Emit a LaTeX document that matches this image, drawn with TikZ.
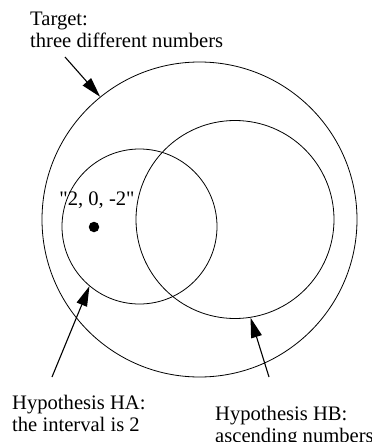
\documentclass[tikz,border=0pt]{standalone}
\usepackage{fontspec}
\setmainfont{Liberation Serif}
\newfontfamily\qfont{Liberation Serif}
\usetikzlibrary{arrows.meta}
\begin{document}
\begin{tikzpicture}[x=1pt,y=-1pt,
  ring/.style={circle,draw,line width=0.8pt,inner sep=0pt},
  lbl/.style={font=\fontsize{20.6}{22}\selectfont, inner sep=0pt, align=left, anchor=base west},
  pointer/.style={line width=1.1pt, -{Triangle[length=20pt,width=11pt]}}]
\useasboundingbox (0,0) rectangle (372,442);
\node[ring, minimum size=315pt] (T) at (199.5,219.5) {};
\node[ring, minimum size=155pt] (A) at (139.5,226.5) {};
\node[ring, minimum size=198pt] (B) at (235,219.5) {};
\node[circle, fill, inner sep=0pt, minimum size=10.5pt] (d) at (94,227) {};
\node[lbl, anchor=base] (q) at (97,205) {\qfont "2, 0, -2"};
\node[lbl] (tt) at (30,47) {Target:\\three different numbers};
\node[lbl] (ha) at (12,431) {Hypothesis HA:\\the interval is 2};
\node[lbl] (hb) at (215,442) {Hypothesis HB:\\ascending numbers};
\coordinate (tT) at (65,57);
\coordinate (tA) at (52,377);
\coordinate (tB) at (269,377);
\draw[pointer] (tT) -- (T.129.4);
\draw[pointer] (tA) -- (A.230.1);
\draw[pointer] (tB) -- (B.279.3);
\end{tikzpicture}
\end{document}
